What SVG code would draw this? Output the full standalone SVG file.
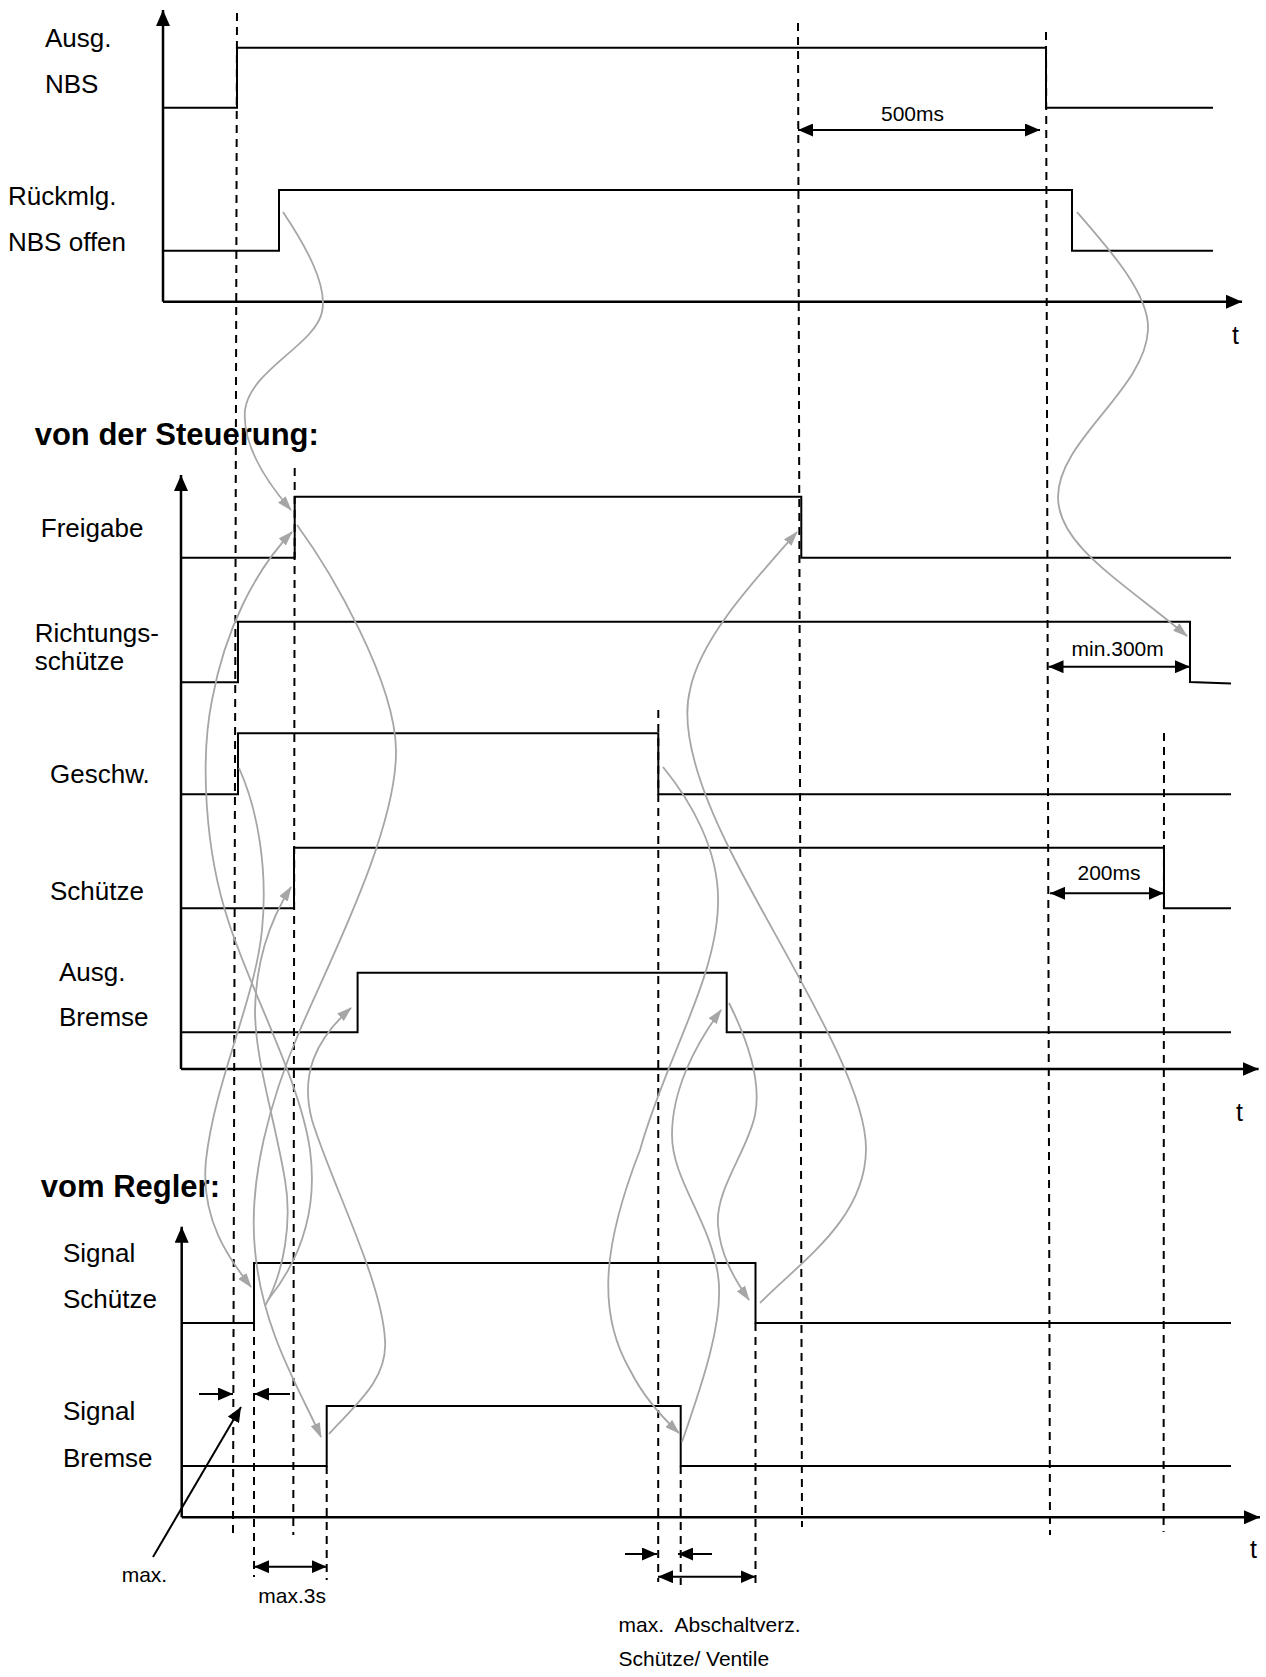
<svg xmlns="http://www.w3.org/2000/svg" width="1266" height="1677" viewBox="0 0 1266 1677">
<defs>
<marker id="ah" viewBox="0 0 16 14" refX="16" refY="7" markerWidth="16" markerHeight="14" markerUnits="userSpaceOnUse" orient="auto-start-reverse"><path d="M0,0 L16,7 L0,14 z" fill="#000"/></marker>
<marker id="dh" viewBox="0 0 15 13" refX="15" refY="6.5" markerWidth="15" markerHeight="13" markerUnits="userSpaceOnUse" orient="auto-start-reverse"><path d="M0,0 L15,6.5 L0,13 z" fill="#000"/></marker>
<marker id="gh" viewBox="0 0 15 10" refX="14" refY="5" markerWidth="15" markerHeight="10" markerUnits="userSpaceOnUse" orient="auto"><path d="M0,0 L15,5 L0,10 z" fill="#a6a6a6"/></marker>
</defs>
<style>
.sig{fill:none;stroke:#000;stroke-width:2}
.ax{fill:none;stroke:#000;stroke-width:2.5;marker-end:url(#ah)}
.dash{fill:none;stroke:#000;stroke-width:2;stroke-dasharray:8 6}
.cur{fill:none;stroke:#a6a6a6;stroke-width:1.8;marker-end:url(#gh)}
.dim{fill:none;stroke:#000;stroke-width:2;marker-start:url(#dh);marker-end:url(#dh)}
.one{fill:none;stroke:#000;stroke-width:2;marker-end:url(#dh)}
.lbl{font-family:"Liberation Sans",Arial,sans-serif;font-size:26px;fill:#000}
.hd{font-family:"Liberation Sans",Arial,sans-serif;font-size:31px;font-weight:bold;fill:#000}
.sm{font-family:"Liberation Sans",Arial,sans-serif;font-size:21px;fill:#000}
.tt{font-family:"Liberation Sans",Arial,sans-serif;font-size:25px;fill:#000}
</style>
<rect width="1266" height="1677" fill="#fff"/>

<g id="axes">
<path class="ax" d="M163,301.7 V10"/>
<path class="ax" d="M163,301.7 H1242"/>
<path class="ax" d="M181,1069 V475"/>
<path class="ax" d="M181,1069 H1258.6"/>
<path class="ax" d="M181.7,1517.3 V1226.7"/>
<path class="ax" d="M181.7,1517.3 H1260"/>
<text class="tt" x="1232" y="344">t</text>
<text class="tt" x="1236" y="1121">t</text>
<text class="tt" x="1250" y="1558">t</text>
</g>

<g id="guides">
<path class="dash" d="M237,13 L233,1533"/>
<path class="dash" d="M294.7,468 L293.3,1535"/>
<path class="dash" d="M798,23 L802,1527"/>
<path class="dash" d="M1046,32 L1050,1535"/>
<path class="dash" d="M658.3,710 L658.2,1582"/>
<path class="dash" d="M680.7,1466 V1585"/>
<path class="dash" d="M755.5,1323 V1585"/>
<path class="dash" d="M1164,733 L1163.6,1532"/>
<path class="dash" d="M254,1323 V1577"/>
<path class="dash" d="M326.7,1466 V1580"/>
</g>

<g id="ausg-nbs">
<text class="lbl" x="45" y="46.7">Ausg.</text>
<text class="lbl" x="45" y="92.7">NBS</text>
<path class="sig" d="M163,107.7 H237 V47.7 H1046 V107.7 H1213"/>
</g>
<g id="rueckmlg">
<text class="lbl" x="8" y="205">Rückmlg.</text>
<text class="lbl" x="8" y="250.7">NBS offen</text>
<path class="sig" d="M163,250.7 H279 V190 H1072 V250.7 H1213"/>
</g>

<text class="hd" x="34.7" y="445">von der Steuerung:</text>

<g id="freigabe">
<text class="lbl" x="40.8" y="537.3">Freigabe</text>
<path class="sig" d="M181,557.7 H294.7 V496.7 H801.3 V557.7 H1231"/>
</g>
<g id="richtungsschuetze">
<text class="lbl" x="34.7" y="641.7">Richtungs-</text>
<text class="lbl" x="34.7" y="670">schütze</text>
<path class="sig" d="M181,682.3 H238 V621.7 H1190 V682 L1231,683.5"/>
</g>
<g id="geschw">
<text class="lbl" x="50" y="783.3">Geschw.</text>
<path class="sig" d="M181,794.3 H238 V733.3 H658.3 V794.3 H1231"/>
</g>
<g id="schuetze">
<text class="lbl" x="50" y="900">Schütze</text>
<path class="sig" d="M181,908.3 H294 V847.7 H1164 V908.3 H1231"/>
</g>
<g id="ausg-bremse">
<text class="lbl" x="59" y="981">Ausg.</text>
<text class="lbl" x="59" y="1026">Bremse</text>
<path class="sig" d="M181,1032.3 H357.6 V972.7 H726.7 V1032.3 H1231"/>
</g>

<text class="hd" x="40.8" y="1196.7">vom Regler:</text>

<g id="signal-schuetze">
<text class="lbl" x="63" y="1261.7">Signal</text>
<text class="lbl" x="63" y="1308.3">Schütze</text>
<path class="sig" d="M181.7,1323 H254 V1263 H755.5 V1323 H1231"/>
</g>
<g id="signal-bremse">
<text class="lbl" x="63" y="1420">Signal</text>
<text class="lbl" x="63" y="1466.7">Bremse</text>
<path class="sig" d="M181.7,1466 H326.7 V1406 H680.7 V1466 H1231"/>
</g>

<g id="dimensions">
<path class="dim" d="M798,130 H1040"/>
<text class="sm" x="912.5" y="120.7" text-anchor="middle">500ms</text>
<path class="dim" d="M1048.5,666.7 H1190"/>
<text class="sm" x="1117.7" y="656" text-anchor="middle">min.300m</text>
<path class="dim" d="M1050,893.3 H1163.6"/>
<text class="sm" x="1109" y="880" text-anchor="middle">200ms</text>
<path class="dim" d="M254,1566.7 H326.7"/>
<text class="sm" x="258.3" y="1603.3">max.3s</text>
<path class="one" d="M199,1394 H233"/>
<path class="one" d="M290,1394 H254"/>
<path class="one" d="M153,1557 L241,1407"/>
<text class="sm" x="121.7" y="1581.7">max.</text>
<path class="one" d="M625,1554 H657"/>
<path class="one" d="M712,1554 H678"/>
<path class="dim" d="M658,1576.7 H755.5"/>
<text class="sm" x="618.5" y="1631.7" xml:space="preserve">max.  Abschaltverz.</text>
<text class="sm" x="618.5" y="1666">Schütze/ Ventile</text>
</g>

<g id="connectors">
<path class="cur" d="M283,212 C305,245 328,285 322,312 C315,345 250,370 245,410 C242,445 265,480 291,510"/>
<path class="cur" d="M1077,212 C1110,250 1150,295 1148,330 C1145,390 1058,440 1058,497 C1058,545 1120,580 1187,636"/>
<path class="cur" d="M268,1300 C300,1260 318,1210 310,1150 C300,1080 250,990 228,920 C205,850 200,760 212,700 C225,630 255,570 292,532"/>
<path class="cur" d="M265,1306 C285,1270 292,1220 285,1180 C275,1120 255,1060 255,1010 C256,960 270,920 291,887"/>
<path class="cur" d="M239,768 C258,810 268,870 262,930 C255,1000 215,1080 206,1160 C200,1220 230,1260 251,1287"/>
<path class="cur" d="M297,525 C330,570 395,680 396,750 C397,830 330,960 300,1030 C270,1100 248,1180 255,1250 C262,1330 300,1390 321,1437"/>
<path class="cur" d="M329,1434 C355,1405 388,1380 385,1340 C382,1280 330,1180 312,1120 C300,1075 315,1040 351,1008"/>
<path class="cur" d="M663,767 C690,800 720,850 718,905 C716,980 665,1060 640,1150 C605,1240 595,1310 630,1370 C645,1400 665,1420 679,1433"/>
<path class="cur" d="M760,1303 C800,1262 865,1220 866,1150 C867,1080 780,950 730,850 C700,790 680,730 690,690 C700,640 750,585 797,532"/>
<path class="cur" d="M729,1003 C745,1035 762,1080 755,1115 C748,1150 715,1190 718,1225 C720,1255 735,1280 749,1300"/>
<path class="cur" d="M682,1442 C700,1390 725,1320 718,1275 C710,1220 672,1180 672,1135 C672,1090 695,1045 721,1010"/>
</g>
</svg>
